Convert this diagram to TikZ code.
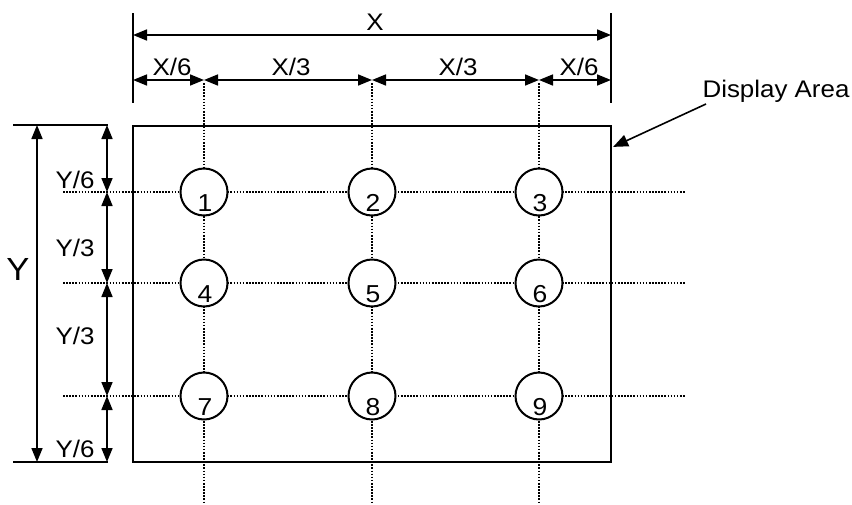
\documentclass[tikz,border=0pt]{standalone}
\usepackage{fontspec}
\setmainfont{Liberation Sans}[FakeStretch=1.08]
\usetikzlibrary{arrows.meta,calc}
\newcommand\cnum[1]{\raisebox{-19.5pt}[0pt][0pt]{\hspace*{2pt}#1}}
\begin{document}
\begin{tikzpicture}[x=1pt,y=-1pt,
  tip/.tip={Triangle[length=14pt,width=11pt]},
  dim/.style={line width=1.6pt,tip-tip},
  ext/.style={line width=1.8pt},
  gridline/.style={line width=1.7pt,dash pattern=on 1.6pt off 1.5pt},
  circ/.style={circle,draw,line width=2pt,fill=white,minimum size=47pt,inner sep=0pt,
    font=\fontsize{24.5}{28}\selectfont},
  lbl/.style={font=\fontsize{24}{28}\selectfont,inner sep=0pt,anchor=base}]
\useasboundingbox (0,0) rectangle (852,504);

% display area
\node[draw,line width=2.2pt,minimum width=478pt,minimum height=336pt,inner sep=0pt] (disp) at (372,294) {};

% grid coordinates
\foreach \n/\x in {1/204,2/372,3/539} {
  \coordinate (vt\n) at (\x,83);
  \coordinate (vb\n) at (\x,504);
}
\foreach \n/\y in {1/192,2/283,3/396} {
  \coordinate (hl\n) at (63,\y);
  \coordinate (hr\n) at (685,\y);
}
\foreach \n in {1,2,3} {
  \draw[gridline] (vt\n) -- (vb\n);
  \draw[gridline] (hl\n) -- (hr\n);
}

% circles
\node[circ] (c1) at (204,192) {\cnum{1}};
\node[circ] (c2) at (372,192) {\cnum{2}};
\node[circ] (c3) at (539,192) {\cnum{3}};
\node[circ] (c4) at (204,283) {\cnum{4}};
\node[circ] (c5) at (372,283) {\cnum{5}};
\node[circ] (c6) at (539,283) {\cnum{6}};
\node[circ] (c7) at (204,396) {\cnum{7}};
\node[circ] (c8) at (372,396) {\cnum{8}};
\node[circ] (c9) at (539,396) {\cnum{9}};

% top dimensions
\coordinate (xl0) at (133,13);
\coordinate (xl1) at (133,103);
\coordinate (xr0) at (611,13);
\coordinate (xr1) at (611,103);
\draw[ext] (xl0) -- (xl1);
\draw[ext] (xr0) -- (xr1);
\coordinate (xa) at (133,35);
\coordinate (xb) at (611,35);
\draw[dim] (xa) -- (xb);
\coordinate (t0) at (133,80);
\coordinate (t1) at (204,80);
\coordinate (t2) at (372,80);
\coordinate (t3) at (539,80);
\coordinate (t4) at (611,80);
\draw[dim] (t0) -- (t1);
\draw[dim] (t1) -- (t2);
\draw[dim] (t2) -- (t3);
\draw[dim] (t3) -- (t4);
\node[lbl] (lx) at (375,30) {X};
\node[lbl] (lx1) at (172,75) {X/6};
\node[lbl] (lx2) at (291,75) {X/3};
\node[lbl] (lx3) at (458,75) {X/3};
\node[lbl] (lx4) at (579,75) {X/6};

% left dimensions
\coordinate (yt0) at (13,125);
\coordinate (yt1) at (108,125);
\coordinate (yb0) at (13,462);
\coordinate (yb1) at (108,462);
\draw[ext] (yt0) -- (yt1);
\draw[ext] (yb0) -- (yb1);
\coordinate (ya) at (37,125);
\coordinate (yb) at (37,462);
\draw[dim] (ya) -- (yb);
\coordinate (s0) at (107,125);
\coordinate (s1) at (107,192);
\coordinate (s2) at (107,283);
\coordinate (s3) at (107,396);
\coordinate (s4) at (107,462);
\draw[dim] (s0) -- (s1);
\draw[dim] (s1) -- (s2);
\draw[dim] (s2) -- (s3);
\draw[dim] (s3) -- (s4);
\node[lbl,font=\fontsize{32}{36}\selectfont] (ly) at (18,280) {Y};
\node[lbl] (ly1) at (75,188) {Y/6};
\node[lbl] (ly2) at (75,256) {Y/3};
\node[lbl] (ly3) at (75,344) {Y/3};
\node[lbl] (ly4) at (75,457) {Y/6};

% display area label
\node[lbl] (dl) at (776,97) {Display Area};
\coordinate (da) at (706,104);
\coordinate (db) at ($(disp.north east)+(1,22)$);
\draw[line width=1.6pt,-{Triangle[length=15pt,width=12pt]}] (da) -- (db);
\end{tikzpicture}
\end{document}
